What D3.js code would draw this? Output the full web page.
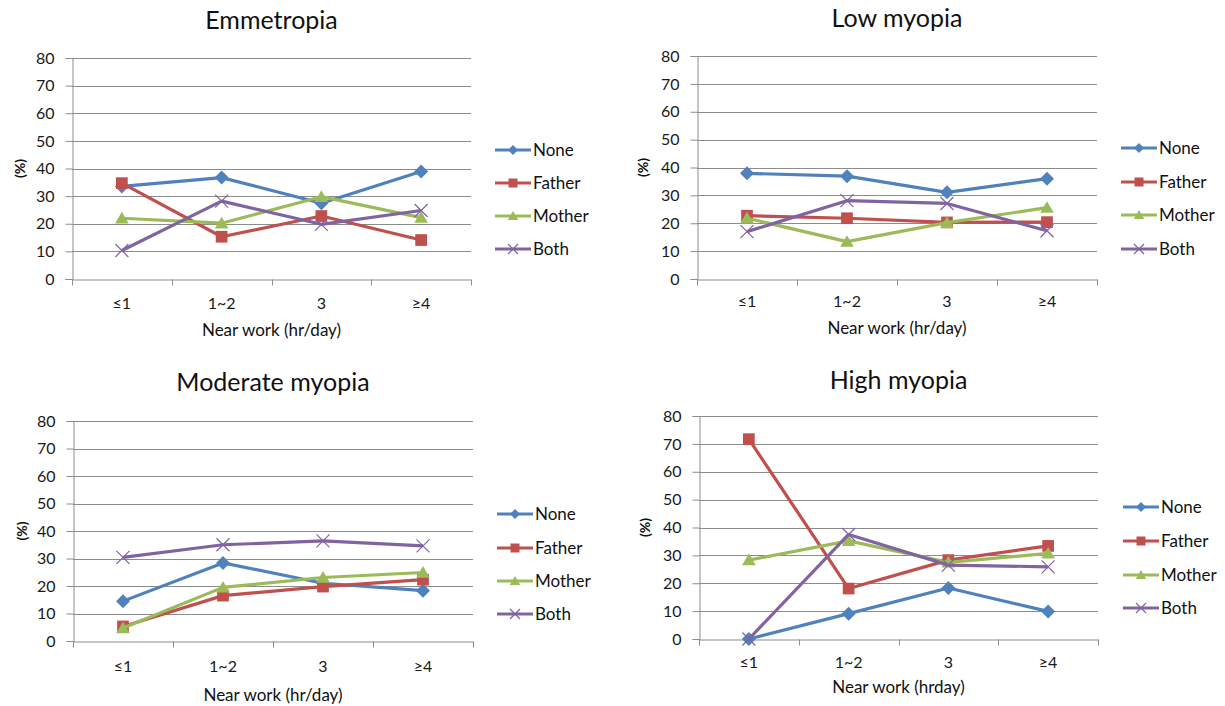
<!DOCTYPE html>
<html>
<head>
  <title>Near work and parental myopia</title>
  <script src="https://d3js.org/d3.v7.min.js"></script>
</head>
<body style="margin:0px; overflow:hidden; background:#fff;">
  <svg id="chart" width="1225" height="706"></svg>
  <script>
    // Data (values in %)
    const categories = ["≤1", "1~2", "3", "≥4"];
    const seriesNames = ["None", "Father", "Mother", "Both"];
    const yTicks = [0, 10, 20, 30, 40, 50, 60, 70, 80];

    const emmetropia = [
      [33.5, 36.7, 27.4, 38.9],
      [34.7, 15.3, 22.8, 14.1],
      [22.0, 20.2, 29.8, 22.2],
      [10.3, 28.2, 19.8, 24.8]
    ];
    const lowMyopia = [
      [37.9, 36.9, 31.1, 36.0],
      [22.7, 21.8, 20.3, 20.4],
      [21.8, 13.4, 20.2, 25.6],
      [17.0, 28.1, 27.1, 17.3]
    ];
    const moderateMyopia = [
      [14.5, 28.4, 21.0, 18.3],
      [5.3, 16.5, 19.8, 22.3],
      [4.7, 19.5, 23.1, 24.9],
      [30.4, 35.0, 36.4, 34.6]
    ];
    const highMyopia = [
      [0, 9.1, 18.3, 9.9],
      [71.7, 18.1, 28.3, 33.4],
      [28.3, 35.2, 27.5, 30.7],
      [0, 37.5, 26.5, 25.9]
    ];

    const colors = ["#4F81BD", "#C0504D", "#9BBB59", "#8064A2"];
    const font = "Lato, 'Open Sans', sans-serif";

    // Excel-like markers: diamond, square, triangle, cross
    function marker(s, r) {
      const p = d3.path();
      if (s === 0) {
        p.moveTo(0, -r); p.lineTo(r, 0); p.lineTo(0, r); p.lineTo(-r, 0); p.closePath();
      } else if (s === 1) {
        p.rect(-r * 0.9, -r * 0.9, r * 1.8, r * 1.8);
      } else if (s === 2) {
        p.moveTo(0, -r); p.lineTo(r * 1.05, r * 0.8); p.lineTo(-r * 1.05, r * 0.8); p.closePath();
      } else {
        p.moveTo(-r, -r); p.lineTo(r, r); p.moveTo(r, -r); p.lineTo(-r, r);
      }
      return p.toString();
    }

    const panels = [
      { title: "Emmetropia", data: emmetropia, xTitle: "Near work (hr/day)",
        left: 72, right: 471, top: 58, bottom: 279, titleY: 20, tickY: 303, xTitleY: 330,
        yLabelX: 20, legendX: 495, legendY: [150, 183, 216, 249] },
      { title: "Low myopia", data: lowMyopia, xTitle: "Near work (hr/day)",
        left: 697, right: 1097, top: 56, bottom: 279, titleY: 18, tickY: 301, xTitleY: 328,
        yLabelX: 643, legendX: 1121, legendY: [148, 182, 215, 249] },
      { title: "Moderate myopia", data: moderateMyopia, xTitle: "Near work (hr/day)",
        left: 73, right: 473, top: 421, bottom: 641, titleY: 382, tickY: 666, xTitleY: 695,
        yLabelX: 22, legendX: 497, legendY: [514, 548, 581, 614] },
      { title: "High myopia", data: highMyopia, xTitle: "Near work (hrday)",
        left: 699, right: 1098, top: 416, bottom: 639, titleY: 380, tickY: 662, xTitleY: 687,
        yLabelX: 645, legendX: 1123, legendY: [507, 541, 575, 608] }
    ];

    const svg = d3.select("#chart");

    panels.forEach(function (p) {
      const g = svg.append("g");

      const x = d3.scaleBand()
        .domain(categories)
        .range([p.left, p.right]);

      const y = d3.scaleLinear()
        .domain([0, 80])
        .range([p.bottom, p.top]);

      // Gridlines
      g.append("g")
        .selectAll("line")
        .data(yTicks.slice(1)).enter()
        .append("line")
        .attr("x1", p.left).attr("x2", p.right)
        .attr("y1", d => Math.round(y(d)) + 0.5)
        .attr("y2", d => Math.round(y(d)) + 0.5)
        .attr("stroke", "#8c8c8c")
        .attr("stroke-width", 1);

      // Y Axis
      const yAxis = g.append("g")
        .attr("transform", "translate(" + (p.left + 0.5) + ",0)")
        .call(d3.axisLeft(y).tickValues(yTicks).tickSize(7).tickPadding(11));
      yAxis.selectAll("path, line").attr("stroke", "#8c8c8c");
      yAxis.selectAll("text").attr("font-family", font).attr("font-size", 16).attr("fill", "#1a1a1a");

      // X Axis
      const xAxis = g.append("g")
        .attr("transform", "translate(0," + (Math.round(p.bottom) + 0.5) + ")")
        .call(d3.axisBottom(x).tickSize(0).tickFormat(""));
      xAxis.select("path").attr("stroke", "#8c8c8c");
      xAxis.append("g")
        .selectAll("line")
        .data(categories.concat(["end"])).enter()
        .append("line")
        .attr("x1", (d, i) => Math.round(p.left + i * x.bandwidth()) + 0.5)
        .attr("x2", (d, i) => Math.round(p.left + i * x.bandwidth()) + 0.5)
        .attr("y1", 0).attr("y2", 6)
        .attr("stroke", "#8c8c8c");

      // Category labels
      g.append("g")
        .selectAll("text")
        .data(categories).enter()
        .append("text")
        .attr("x", d => x(d) + x.bandwidth() / 2)
        .attr("y", p.tickY)
        .attr("dy", "0.35em")
        .attr("text-anchor", "middle")
        .attr("font-family", font)
        .attr("font-size", 16)
        .attr("fill", "#1a1a1a")
        .text(d => d);

      // Titles
      g.append("text")
        .attr("x", (p.left + p.right) / 2)
        .attr("y", p.titleY)
        .attr("dy", "0.35em")
        .attr("text-anchor", "middle")
        .attr("font-family", font)
        .attr("font-size", 25)
        .attr("fill", "#111")
        .text(p.title);

      g.append("text")
        .attr("x", (p.left + p.right) / 2)
        .attr("y", p.xTitleY)
        .attr("dy", "0.35em")
        .attr("text-anchor", "middle")
        .attr("font-family", font)
        .attr("font-size", 17)
        .attr("fill", "#111")
        .text(p.xTitle);

      g.append("text")
        .attr("transform", "translate(" + p.yLabelX + "," + ((p.top + p.bottom) / 2) + ") rotate(-90)")
        .attr("dy", "0.35em")
        .attr("text-anchor", "middle")
        .attr("font-family", font)
        .attr("font-size", 14)
        .attr("font-weight", "bold")
        .attr("fill", "#111")
        .text("(%)");

      // Lines and markers
      const line = d3.line()
        .x((d, i) => x(categories[i]) + x.bandwidth() / 2)
        .y(d => y(d));

      p.data.forEach(function (values, s) {
        g.append("path")
          .datum(values)
          .attr("d", line)
          .attr("fill", "none")
          .attr("stroke", colors[s])
          .attr("stroke-width", 3.2)
          .attr("stroke-linejoin", "round");

        g.append("g")
          .selectAll("path")
          .data(values).enter()
          .append("path")
          .attr("transform", (d, i) => "translate(" + (x(categories[i]) + x.bandwidth() / 2) + "," + y(d) + ")")
          .attr("d", marker(s, s === 0 ? 7 : 6.5))
          .attr("fill", s === 3 ? "none" : colors[s])
          .attr("stroke", s === 3 ? colors[s] : "none")
          .attr("stroke-width", 1.2);
      });

      // Legend
      const legend = g.append("g");
      seriesNames.forEach(function (name, s) {
        const ly = p.legendY[s];
        legend.append("line")
          .attr("x1", p.legendX).attr("x2", p.legendX + 36)
          .attr("y1", ly).attr("y2", ly)
          .attr("stroke", colors[s])
          .attr("stroke-width", 3.2);
        legend.append("path")
          .attr("transform", "translate(" + (p.legendX + 18) + "," + ly + ")")
          .attr("d", marker(s, s === 0 ? 5 : 5))
          .attr("fill", s === 3 ? "none" : colors[s])
          .attr("stroke", s === 3 ? colors[s] : "none")
          .attr("stroke-width", 1.2);
        legend.append("text")
          .attr("x", p.legendX + 38)
          .attr("y", ly)
          .attr("dy", "0.35em")
          .attr("font-family", font)
          .attr("font-size", 17)
          .attr("fill", "#111")
          .text(name);
      });
    });
  </script>
</body>
</html>
